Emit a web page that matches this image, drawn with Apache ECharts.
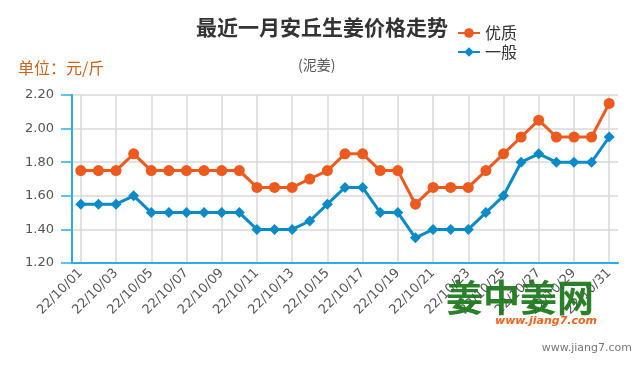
<!DOCTYPE html>
<html><head><meta charset="utf-8">
<script src="https://cdn.jsdelivr.net/npm/echarts@6/dist/echarts.min.js"></script>
<style>html,body{margin:0;padding:0;background:#fff}#c{width:640px;height:370px}</style>
</head><body><div id="c"></div>
<script>
const categories = ['22/10/01','22/10/02','22/10/03','22/10/04','22/10/05','22/10/06','22/10/07','22/10/08','22/10/09','22/10/10','22/10/11','22/10/12','22/10/13','22/10/14','22/10/15','22/10/16','22/10/17','22/10/18','22/10/19','22/10/20','22/10/21','22/10/22','22/10/23','22/10/24','22/10/25','22/10/26','22/10/27','22/10/28','22/10/29','22/10/30','22/10/31'];
const premium = [1.75,1.75,1.75,1.85,1.75,1.75,1.75,1.75,1.75,1.75,1.65,1.65,1.65,1.70,1.75,1.85,1.85,1.75,1.75,1.55,1.65,1.65,1.65,1.75,1.85,1.95,2.05,1.95,1.95,1.95,2.15];
const ordinary = [1.55,1.55,1.55,1.60,1.50,1.50,1.50,1.50,1.50,1.50,1.40,1.40,1.40,1.45,1.55,1.65,1.65,1.50,1.50,1.35,1.40,1.40,1.40,1.50,1.60,1.80,1.85,1.80,1.80,1.80,1.95];
const seriesNames = ['优质','一般'];
const titleText = '最近一月安丘生姜价格走势';
const subText = '(泥姜)';
const unitText = '单位：元/斤';

const FONT = 'DejaVu Sans, Noto Sans CJK SC, sans-serif';
const CJK = 'Noto Sans CJK SC, sans-serif';
const AX = '#2aaee2';
const chart = echarts.init(document.getElementById('c'));
chart.setOption({
  animation: false,
  backgroundColor: '#fff',
  graphic: [
    {type:'text', left:196, top:17, style:{text:titleText, font:'bold 21px '+CJK, fill:'#333'}},
    {type:'text', left:298, top:58, style:{text:subText, font:'14px '+CJK, fill:'#555'}},
    {type:'text', left:18, top:60, style:{text:unitText, font:'16px '+CJK, fill:'#c8641e'}},
    {type:'text', left:446, top:279, z:100, style:{text:'姜中姜网', font:'bold 37px '+CJK, fill:'#1f7a1f', opacity:0.95}},
    {type:'text', left:495, top:316, z:100, style:{text:'www.jiang7.com', font:'italic bold 11px '+FONT, fill:'#f0641e'}},
    {type:'text', right:8, top:343, style:{text:'www.jiang7.com', font:'11px '+FONT, fill:'#777'}}
  ],
  legend: {
    data: seriesNames, orient:'vertical', left:452, top:20, itemGap:3,
    itemWidth:22, itemHeight:12,
    textStyle:{fontFamily:CJK, fontSize:16, color:'#333'}
  },
  grid: {left:72, right:22, top:95, bottom:107},
  xAxis: {
    type:'category', data:categories, boundaryGap:true,
    axisLine:{lineStyle:{color:AX, width:2}},
    axisTick:{interval:1, alignWithLabel:true, length:10, lineStyle:{color:AX, width:1.5}},
    axisLabel:{interval:1, rotate:45, fontFamily:FONT, fontSize:13, color:'#555', margin:8},
    splitLine:{show:true, interval:1, alignWithLabel:true, lineStyle:{color:'#d8d8d8', width:1.5}}
  },
  yAxis: {
    type:'value', min:1.2, max:2.2, interval:0.2,
    axisLine:{show:true, lineStyle:{color:AX, width:2}},
    axisTick:{show:true, length:11, lineStyle:{color:AX, width:1.5}},
    axisLabel:{fontFamily:FONT, fontSize:13, color:'#555', margin:18, formatter:v=>v.toFixed(2)},
    splitLine:{lineStyle:{color:'#d8d8d8', width:1.5}}
  },
  series: [
    {name:seriesNames[0], type:'line', data:premium, symbol:'circle', symbolSize:11,
     itemStyle:{color:'#ec5a1e'}, lineStyle:{width:3, color:'#ec5a1e'}},
    {name:seriesNames[1], type:'line', data:ordinary, symbol:'diamond', symbolSize:11,
     itemStyle:{color:'#0a8bc8'}, lineStyle:{width:3, color:'#0a8bc8'}}
  ]
});
</script></body></html>
